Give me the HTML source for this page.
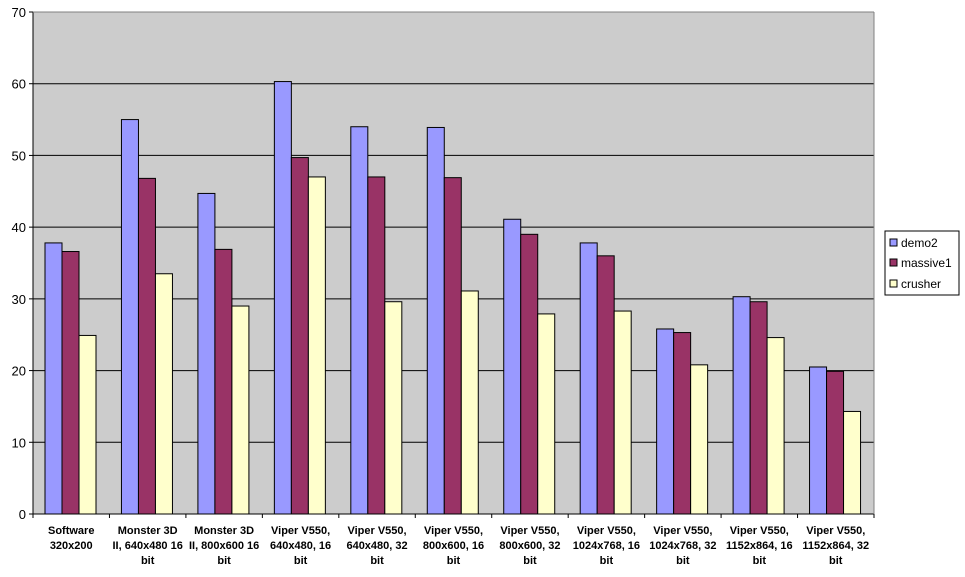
<!DOCTYPE html>
<html><head><meta charset="utf-8"><style>
body{margin:0;background:#fff;font-family:"Liberation Sans",Arial,sans-serif}
svg text{font-family:"Liberation Sans",Arial,sans-serif}
</style></head><body>
<svg id="chart" width="965" height="572" xmlns="http://www.w3.org/2000/svg">
<rect x="33" y="12" width="841" height="502" fill="#c0c0c0" style="fill:#cccccc"/>
<g id="grid"></g><g id="bars"></g><g id="axes"></g>
<g>
<rect x="885" y="231" width="74" height="64" fill="#fff" stroke="#000"/>
<rect x="890" y="239" width="7" height="7" fill="#9999ff" stroke="#000"/>
<text x="901" y="247" font-size="12">demo2</text>
<rect x="890" y="259" width="7" height="7" fill="#993366" stroke="#000"/>
<text x="901" y="267" font-size="12">massive1</text>
<rect x="890" y="280" width="7" height="7" fill="#ffffcc" stroke="#000"/>
<text x="901" y="288" font-size="12">crusher</text>
</g>
</svg>
<script>
const categories=[["Software","320x200"],["Monster 3D","II, 640x480 16","bit"],["Monster 3D","II, 800x600 16","bit"],["Viper V550,","640x480, 16","bit"],["Viper V550,","640x480, 32","bit"],["Viper V550,","800x600, 16","bit"],["Viper V550,","800x600, 32","bit"],["Viper V550,","1024x768, 16","bit"],["Viper V550,","1024x768, 32","bit"],["Viper V550,","1152x864, 16","bit"],["Viper V550,","1152x864, 32","bit"]];
const demo2=[37.8,55.0,44.7,60.3,54.0,53.9,41.1,37.8,25.8,30.3,20.5];
const massive1=[36.6,46.8,36.9,49.7,47.0,46.9,39.0,36.0,25.3,29.6,19.9];
const crusher=[24.9,33.5,29.0,47.0,29.6,31.1,27.9,28.3,20.8,24.6,14.3];
const yTicks=[0,10,20,30,40,50,60,70];
const NS="http://www.w3.org/2000/svg";
const L=33,R=874,T=12,B=514,YMAX=70;
const y=v=>B-(v/YMAX)*(B-T);
const cw=(R-L)/categories.length;
const x=i=>L+i*cw;
function mk(tag,attrs,parent){const e=document.createElementNS(NS,tag);for(const k in attrs)e.setAttribute(k,attrs[k]);parent.appendChild(e);return e;}
const grid=document.getElementById('grid'),bars=document.getElementById('bars'),axes=document.getElementById('axes');
yTicks.forEach(t=>{
  if(t>0&&t<YMAX){const g=mk('line',{x1:L,x2:R,y1:y(t),y2:y(t),stroke:'#000'},grid);
  
  }
  const tk=mk('line',{x1:L-4,x2:L,y1:y(t),y2:y(t),stroke:'#000'},axes);
  
  
  const tx=mk('text',{x:L-7,y:y(t)+5,'font-size':13,'text-anchor':'end'},axes);tx.textContent=t;
  
  
});
const series=[[demo2,'#9999ff','demo2'],[massive1,'#993366','massive1'],[crusher,'#ffffcc','crusher']];
const bw=17,off=12;
categories.forEach((c,i)=>{
  series.forEach((s,j)=>{
    const v=s[0][i];
    const r=mk('rect',{x:x(i)+off+j*bw,y:y(v),width:bw,height:B-y(v),fill:s[1],stroke:'#000','stroke-width':1},bars);
    
    
  });
  const tk=mk('line',{x1:x(i),x2:x(i),y1:B,y2:B+4,stroke:'#000'},axes);
  
  
  const t=mk('text',{'font-size':11,'font-weight':'bold','text-anchor':'middle'},axes);
  
  
  c.forEach((line,k)=>{const ts=mk('tspan',{x:x(i)+cw/2,y:534+k*15},t);ts.textContent=line;});
});
const tkE=mk('line',{x1:R,x2:R,y1:B,y2:B+4,stroke:'#000'},axes);


const ya=mk('line',{x1:L,x2:L,y1:T,y2:B,stroke:'#000'},axes);


const xa=mk('line',{x1:L,x2:R,y1:B,y2:B,stroke:'#000'},axes);


const tp=mk('line',{x1:L,x2:R,y1:T,y2:T,stroke:'#808080'},axes);


const rp=mk('line',{x1:R,x2:R,y1:T,y2:B,stroke:'#808080'},axes);


</script>
</body></html>
